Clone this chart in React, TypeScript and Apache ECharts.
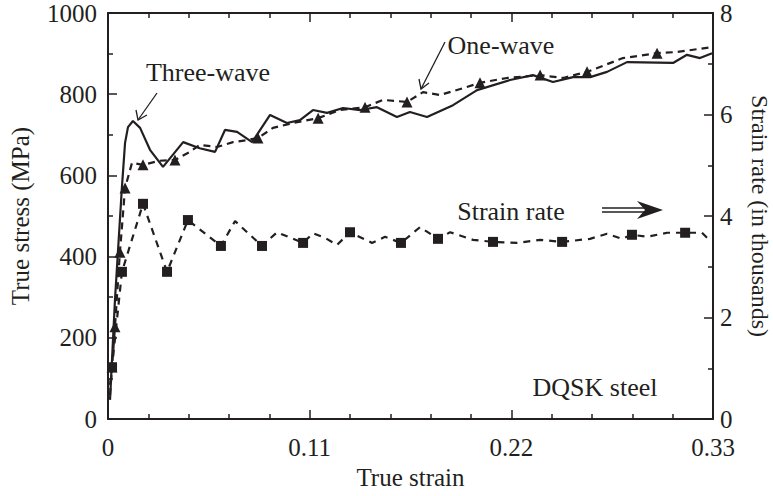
import React, { useEffect, useRef } from "react";
import * as echarts from "echarts";

// True strain vs true stress (MPa), solid line
const threeWave: [number, number][] = [
  [0.0011, 47], [0.0038, 293], [0.0076, 571], [0.0093, 680], [0.0109, 719],
  [0.0136, 734], [0.0175, 717], [0.0229, 663], [0.030, 621], [0.041, 682],
  [0.050, 667], [0.0584, 658], [0.0638, 712], [0.0704, 707], [0.0786, 682],
  [0.0884, 749], [0.0976, 729], [0.1047, 736], [0.1118, 761], [0.1195, 754],
  [0.1282, 766], [0.1375, 761], [0.1467, 768], [0.1576, 744], [0.1647, 756],
  [0.174, 744], [0.1882, 773], [0.2013, 810], [0.2193, 835], [0.2318, 847],
  [0.2427, 830], [0.2537, 842], [0.263, 842], [0.2722, 855], [0.2831, 879],
  [0.3082, 877], [0.3158, 897], [0.3229, 889], [0.3295, 901],
];

// One-wave, dashed line
const oneWave: [number, number][] = [
  [0.0011, 84], [0.0022, 128], [0.0038, 227], [0.0065, 411], [0.0093, 569],
  [0.0131, 631], [0.0191, 626], [0.0280, 636], [0.0365, 638], [0.0447, 658],
  [0.050, 675], [0.0595, 670], [0.0682, 682], [0.0758, 687], [0.0818, 692],
  [0.090, 717], [0.1009, 729], [0.1146, 741], [0.1266, 761], [0.1402, 768],
  [0.150, 786], [0.1631, 781], [0.1718, 805], [0.1811, 798], [0.1937, 815],
  [0.2029, 828], [0.2177, 840], [0.2357, 847], [0.2482, 840], [0.2613, 855],
  [0.2809, 889], [0.2995, 901], [0.3104, 904], [0.3295, 916],
];
const oneWaveMarks: [number, number][] = [
  [0.0022, 128], [0.0038, 227], [0.0065, 411], [0.0093, 569], [0.0191, 626],
  [0.0365, 638], [0.0818, 692], [0.1146, 741], [0.1402, 768], [0.1631, 781],
  [0.2029, 828], [0.2357, 847], [0.2613, 855], [0.2995, 901],
];

// Strain rate (in thousands), right axis
const strainRate: [number, number][] = [
  [0.0011, 0.47], [0.0022, 1.02], [0.0076, 2.90], [0.0191, 4.24], [0.0322, 2.90],
  [0.0436, 3.92], [0.0616, 3.41], [0.0693, 3.90], [0.084, 3.41], [0.0922, 3.68],
  [0.1064, 3.47], [0.1118, 3.66], [0.1184, 3.57], [0.1249, 3.43], [0.132, 3.68],
  [0.144, 3.47], [0.1511, 3.59], [0.1598, 3.47], [0.1702, 3.78], [0.180, 3.55],
  [0.1866, 3.68], [0.1991, 3.53], [0.210, 3.49], [0.2231, 3.47], [0.2357, 3.53],
  [0.2477, 3.49], [0.2629, 3.55], [0.2722, 3.65], [0.2804, 3.55], [0.2858, 3.63],
  [0.294, 3.59], [0.305, 3.67], [0.3148, 3.67], [0.324, 3.67], [0.3268, 3.57],
];
const strainRateMarks: [number, number][] = [
  [0.0022, 1.02], [0.0076, 2.90], [0.0191, 4.24], [0.0322, 2.90], [0.0436, 3.92],
  [0.0616, 3.41], [0.084, 3.41], [0.1064, 3.47], [0.132, 3.68], [0.1598, 3.47],
  [0.180, 3.55], [0.210, 3.49], [0.2477, 3.49], [0.2858, 3.63], [0.3148, 3.67],
];

const xTicks = [0, 0.11, 0.22, 0.33];

const INK = "#231f20";
const FONT = "Liberation Serif";

export default function App() {
  const ref = useRef<HTMLDivElement>(null);
  useEffect(() => {
    if (!ref.current) return;
    const chart = echarts.init(ref.current, undefined, { renderer: "svg" });
    const axisCommon = {
      axisLine: { show: true, onZero: false, lineStyle: { color: INK, width: 2 } },
      axisTick: { show: true, inside: true, length: 9, lineStyle: { color: INK, width: 1.5 } },
      minorTick: { show: true, length: 5, lineStyle: { color: INK, width: 1.5 } },
      splitLine: { show: false },
    };
    const labelStyle = { color: INK, fontFamily: FONT, fontSize: 25 };
    const nameStyle = { color: INK, fontFamily: FONT, fontSize: 25 };
    const annFont = `26px "${FONT}"`;
    chart.setOption({
      animation: false,
      backgroundColor: "#ffffff",
      grid: { left: 108, right: 60, top: 13, bottom: 77, containLabel: false, outerBoundsMode: "none" },
      xAxis: [
        {
          type: "value", min: 0, max: 0.33, interval: 0.11, position: "bottom",
          name: "True strain", nameLocation: "middle", nameGap: 46, nameTextStyle: nameStyle,
          ...axisCommon,
          minorTick: { ...axisCommon.minorTick, splitNumber: 5 },
          axisLabel: {
            ...labelStyle, margin: 16,
            formatter: (v: number) => {
              const t = xTicks.find((k) => Math.abs(k - v) < 1e-6);
              return t === undefined ? "" : t === 0 ? "0" : t.toFixed(2);
            },
          },
        },
        {
          type: "value", min: 0, max: 0.33, interval: 0.11, position: "top",
          ...axisCommon,
          minorTick: { ...axisCommon.minorTick, splitNumber: 5 },
          axisLabel: { show: false },
        },
      ],
      yAxis: [
        {
          type: "value", min: 0, max: 1000, interval: 200, position: "left",
          name: "True stress (MPa)", nameLocation: "middle", nameGap: 75, nameTextStyle: nameStyle,
          ...axisCommon,
          minorTick: { ...axisCommon.minorTick, splitNumber: 2 },
          axisLabel: { ...labelStyle, margin: 11, formatter: (v: number) => String(v) },
        },
        {
          type: "value", min: 0, max: 8, interval: 2, position: "right",
          name: "Strain rate (in thousands)", nameLocation: "middle", nameGap: 35,
          nameRotate: -90, nameTextStyle: { ...nameStyle, fontSize: 24 },
          ...axisCommon,
          minorTick: { ...axisCommon.minorTick, splitNumber: 2 },
          axisLabel: { ...labelStyle, margin: 7, formatter: (v: number) => String(v) },
        },
      ],
      series: [
        {
          type: "line", data: threeWave, xAxisIndex: 0, yAxisIndex: 0,
          showSymbol: false, lineStyle: { color: INK, width: 2.2 }, z: 3,
        },
        {
          type: "line", data: oneWave, xAxisIndex: 0, yAxisIndex: 0,
          showSymbol: false, lineStyle: { color: INK, width: 2.2, type: [7, 5] }, z: 3,
        },
        {
          type: "scatter", data: oneWaveMarks, xAxisIndex: 0, yAxisIndex: 0,
          symbol: "triangle", symbolSize: 11, itemStyle: { color: INK, opacity: 1 }, z: 4,
        },
        {
          type: "line", data: strainRate, xAxisIndex: 0, yAxisIndex: 1,
          showSymbol: false, lineStyle: { color: INK, width: 2.2, type: [7, 6] }, z: 3,
        },
        {
          type: "scatter", data: strainRateMarks, xAxisIndex: 0, yAxisIndex: 1,
          symbol: "rect", symbolSize: 10, itemStyle: { color: INK, opacity: 1 }, z: 4,
        },
      ],
      graphic: [
        { type: "text", x: 208, y: 72, style: { text: "Three-wave", fill: INK, font: annFont, align: "center", verticalAlign: "middle" } },
        { type: "line", shape: { x1: 157, y1: 93, x2: 138, y2: 120 }, style: { stroke: INK, lineWidth: 1.3 } },
        { type: "polyline", shape: { points: [[136, 110], [138, 120], [147, 115]] }, style: { stroke: INK, lineWidth: 1.3, fill: null } },
        { type: "text", x: 501, y: 45, style: { text: "One-wave", fill: INK, font: annFont, align: "center", verticalAlign: "middle" } },
        { type: "line", shape: { x1: 445, y1: 42, x2: 421, y2: 89 }, style: { stroke: INK, lineWidth: 1.3 } },
        { type: "polyline", shape: { points: [[419, 79], [421, 89], [429, 83]] }, style: { stroke: INK, lineWidth: 1.3, fill: null } },
        { type: "text", x: 511, y: 211, style: { text: "Strain rate", fill: INK, font: annFont, align: "center", verticalAlign: "middle" } },
        { type: "line", shape: { x1: 602, y1: 208, x2: 648, y2: 208 }, style: { stroke: INK, lineWidth: 1.3 } },
        { type: "line", shape: { x1: 602, y1: 212, x2: 648, y2: 212 }, style: { stroke: INK, lineWidth: 1.3 } },
        { type: "polygon", shape: { points: [[637, 201], [663, 210], [637, 219], [645, 210]] }, style: { fill: INK } },
        { type: "text", x: 595, y: 387, style: { text: "DQSK steel", fill: INK, font: annFont, align: "center", verticalAlign: "middle" } },
      ],
    });
    return () => chart.dispose();
  }, []);
  return (
    <div
      ref={ref}
      style={{ position: "fixed", left: 0, top: 0, width: 773, height: 496, background: "#fff" }}
    />
  );
}
